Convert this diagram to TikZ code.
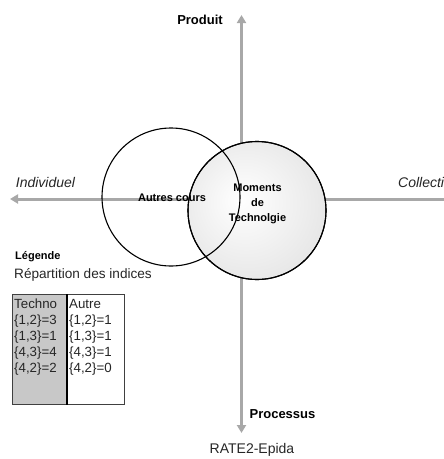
\documentclass[tikz,border=0pt]{standalone}
\usepackage{fontspec}
\setmainfont{Liberation Sans}
\usetikzlibrary{arrows.meta}
\definecolor{axisgray}{HTML}{A8A8A8}
\definecolor{cellgray}{HTML}{C8C8C8}
\definecolor{ringgray}{HTML}{D4D4D4}
\pgfdeclareradialshading{softball}{\pgfpoint{-6bp}{4bp}}{color(0bp)=(white); color(12bp)=(white!96!black); color(50bp)=(ringgray)}
\begin{document}
\begin{tikzpicture}[x=1pt,y=-1pt,
  axis/.style={draw=axisgray,line width=3pt},
  tipend/.style={-{Triangle[width=9pt,length=8pt]}},
  ring/.style={circle,draw=black,line width=1.1pt,minimum size=138pt,inner sep=0pt},
  boldlbl/.style={inner sep=0pt,font=\bfseries\fontsize{11}{15}\selectfont,align=center},
  axislbl/.style={inner sep=0pt,font=\bfseries\fontsize{13}{15}\selectfont},
  itlbl/.style={inner sep=0pt,font=\itshape\fontsize{14}{16}\selectfont,text=black!85},
  plainlbl/.style={inner sep=0pt,font=\fontsize{13.6}{16}\selectfont,text=black!85},
  celltxt/.style={inner sep=0pt,anchor=base west,font=\fontsize{13.3}{16}\selectfont,text=black!85},
  cellbox/.style={draw=black!75,line width=0.8pt,anchor=north west,inner sep=0pt,minimum height=110pt}]
\useasboundingbox (0,0) rectangle (444,459);

% axes
\coordinate (vtop) at (241.5,15);
\coordinate (vbot) at (241.5,433);
\coordinate (hleft) at (10,199);
\coordinate (hright) at (446,199);
\draw[axis,tipend] (hright) -- (hleft);
\draw[axis,{Triangle[width=9pt,length=8pt]}-{Triangle[width=9pt,length=8pt]}] (vbot) -- (vtop);

% circles
\node[ring,shading=softball] (tech) at (257,210.5) {};
\node[ring] (autres) at (171,197) {};
\node[ring] (techrim) at (257,210.5) {};

% circle labels
\node[boldlbl] (autreslbl) at (172,198) {Autres cours};
\node[boldlbl] (techlbl) at (257.5,204) {Moments\\de\\Technolgie};

% axis labels
\node[axislbl] (produit) at (200,20) {Produit};
\node[axislbl] (processus) at (282.5,414) {Processus};
\node[itlbl] (indiv) at (45.5,182) {Individuel};
\node[itlbl,anchor=west] (collect) at (398,182) {Collecti};
\node[plainlbl,font=\fontsize{14}{16}\selectfont] (source) at (252,450) {RATE2-Epida};

% legend
\node[inner sep=0pt,anchor=west,font=\bfseries\fontsize{11}{13}\selectfont] (legende) at (15,257) {Légende};
\node[plainlbl,anchor=west] (repart) at (14,275) {Répartition des indices};

\node[cellbox,fill=cellgray,minimum width=54pt] (colL) at (12,294) {};
\node[cellbox,fill=white,minimum width=58pt] (colR) at (66,294) {};
\draw[black,line width=1.6pt] (colL.north east) -- (colL.south east);

\node[celltxt] (l0) at (14,308.7) {Techno};
\node[celltxt] (l1) at (14,324.7) {\{1,2\}=3};
\node[celltxt] (l2) at (14,340.7) {\{1,3\}=1};
\node[celltxt] (l3) at (14,356.7) {\{4,3\}=4};
\node[celltxt] (l4) at (14,372.7) {\{4,2\}=2};
\node[celltxt] (r0) at (69,308.7) {Autre};
\node[celltxt] (r1) at (69,324.7) {\{1,2\}=1};
\node[celltxt] (r2) at (69,340.7) {\{1,3\}=1};
\node[celltxt] (r3) at (69,356.7) {\{4,3\}=1};
\node[celltxt] (r4) at (69,372.7) {\{4,2\}=0};
\end{tikzpicture}
\end{document}
